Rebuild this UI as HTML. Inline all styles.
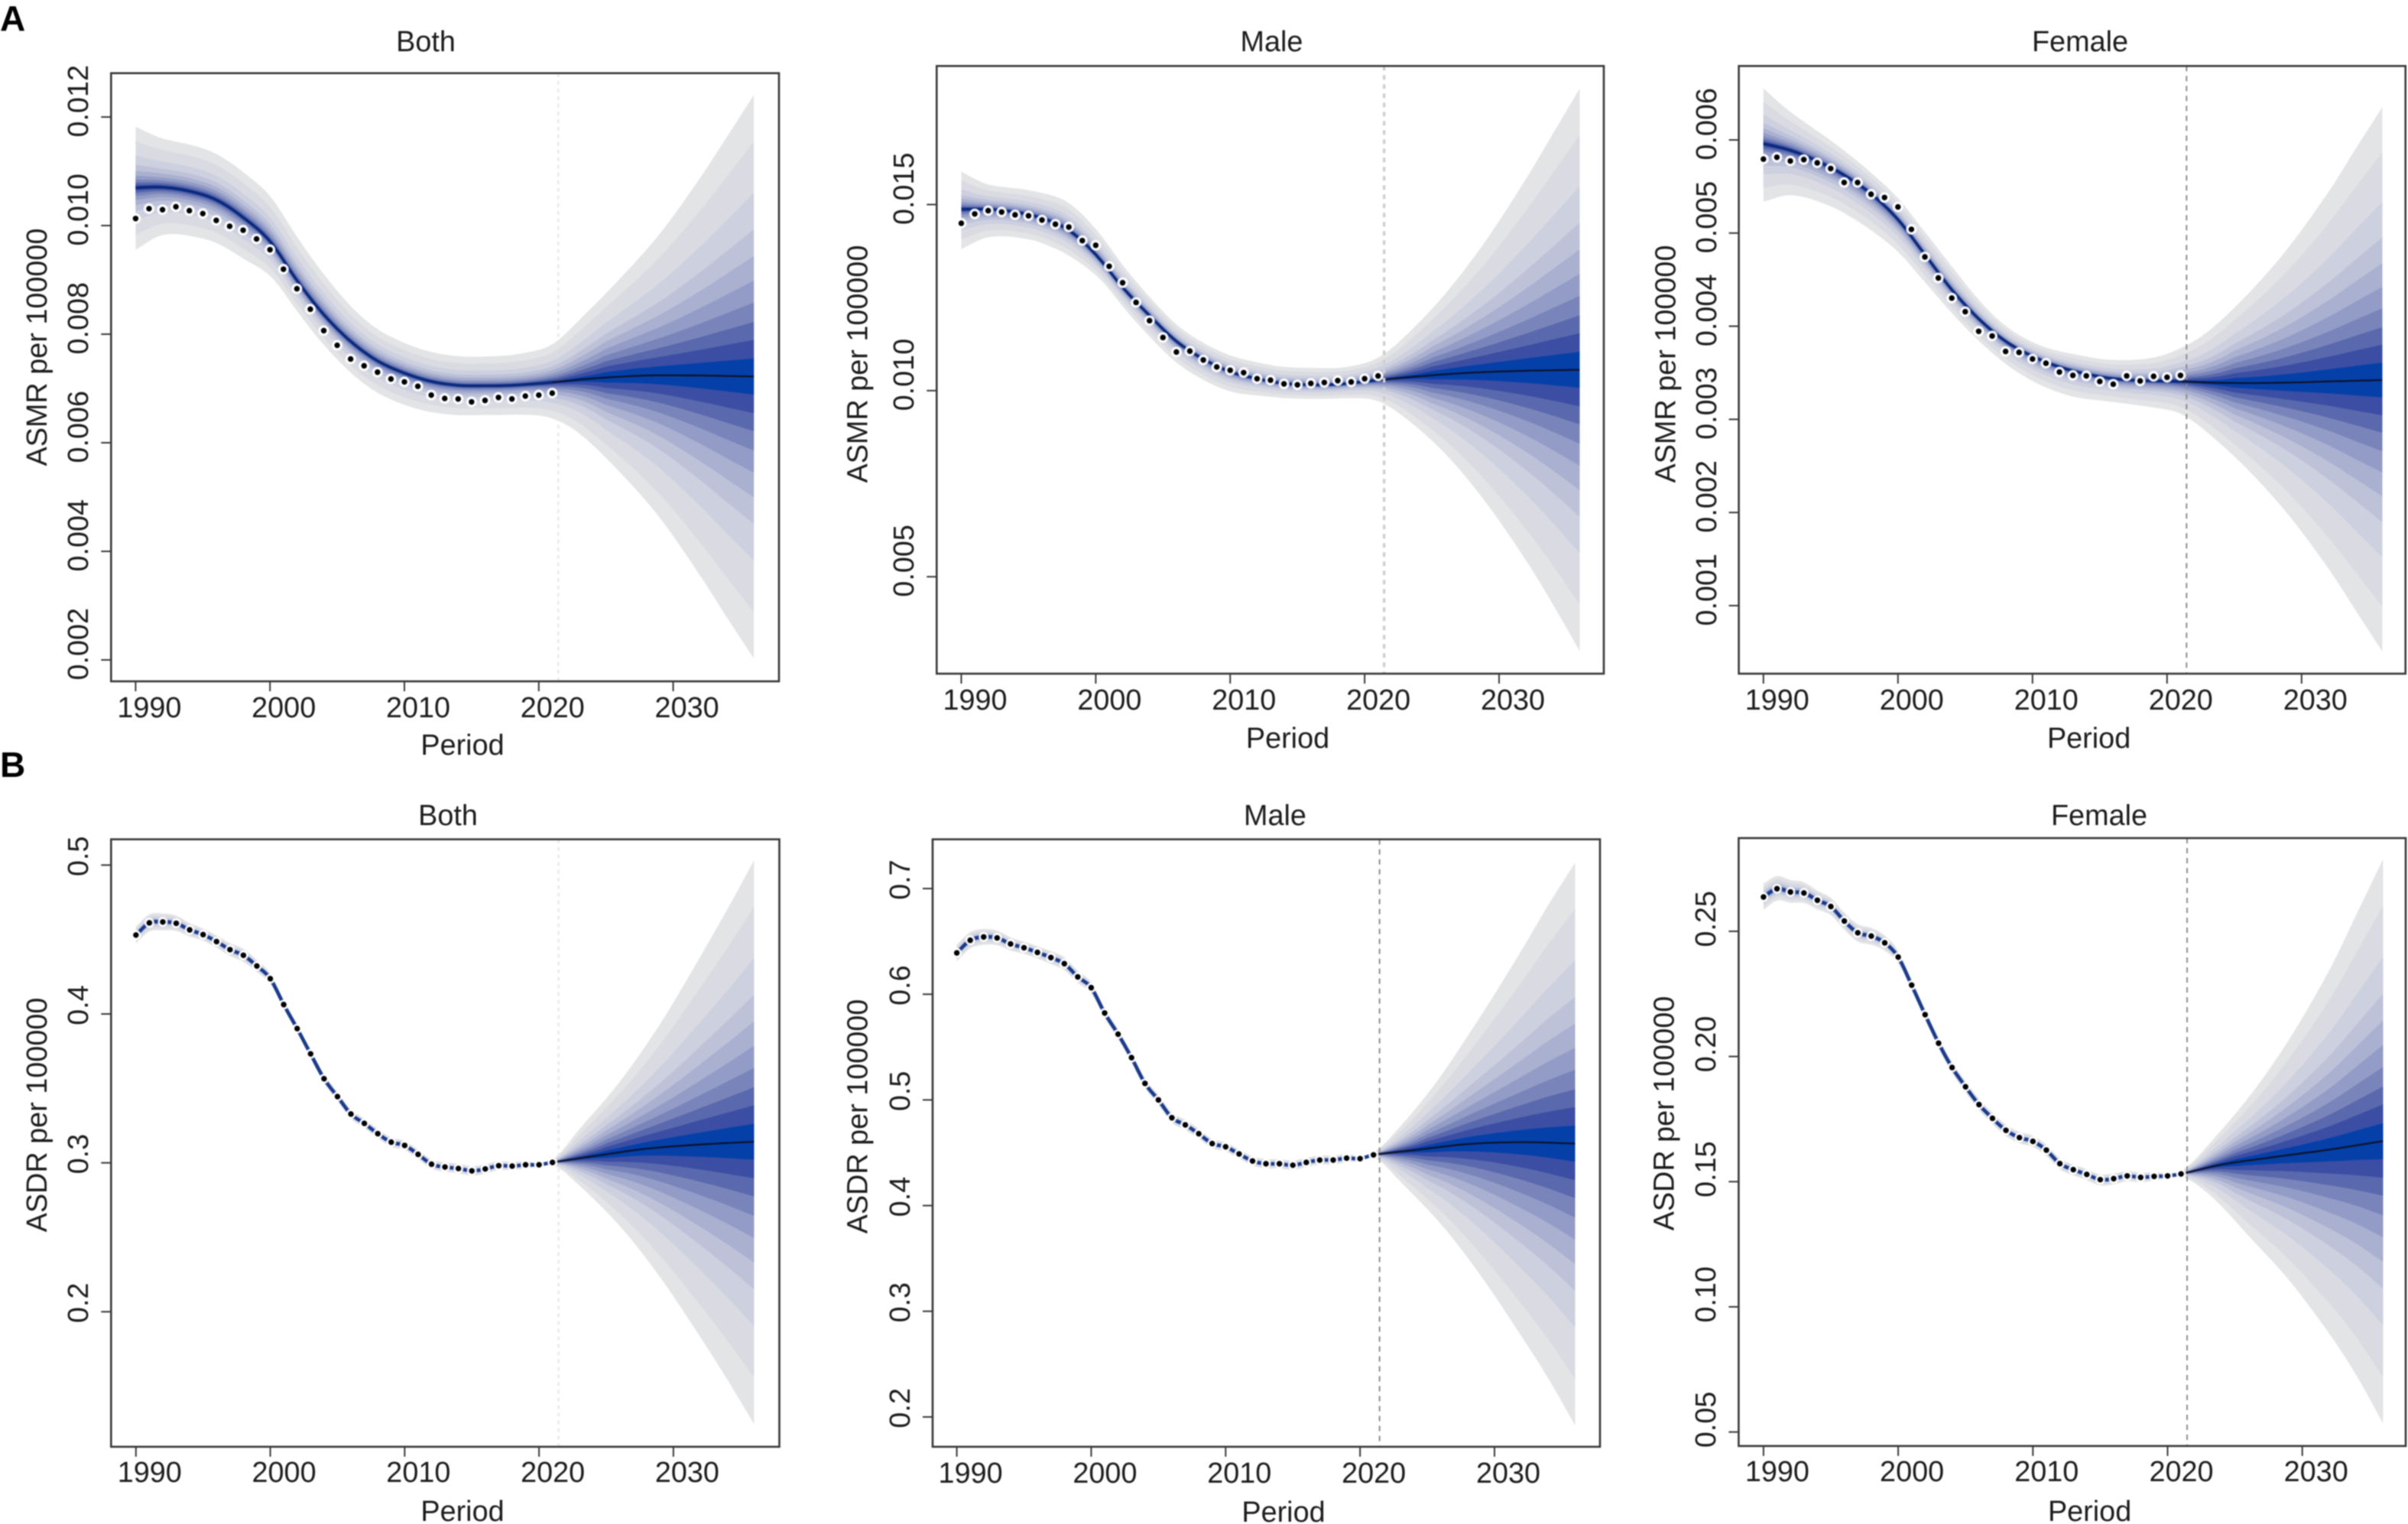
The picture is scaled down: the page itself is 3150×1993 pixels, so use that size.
<!DOCTYPE html>
<html lang="en">
<head>
<meta charset="utf-8">
<title>ASMR and ASDR projections</title>
<style>
html,body{margin:0;padding:0;background:#fff;width:3150px;height:1993px;overflow:hidden}
svg{display:block;filter:blur(0.9px)}
text{font-family:"Liberation Sans",sans-serif;font-size:37.8px;fill:#1c1c1c}
.letter{font-weight:bold;font-size:46px;fill:#000}
</style>
</head>
<body>
<svg id="figure" width="3150" height="1993" viewBox="0 0 3150 1993">
<rect x="0" y="0" width="3150" height="1993" fill="#fff"/>
<text class="letter" x="0" y="40">A</text>
<text class="letter" x="0" y="1016">B</text>

<g id="asmrBoth">
<text x="557" y="67" text-anchor="middle">Both</text>
<text x="605" y="987" text-anchor="middle">Period</text>
<text transform="translate(61 454) rotate(-90)" text-anchor="middle">ASMR per 100000</text>
</g>
<g id="asmrMale">
<text x="1663.5" y="67" text-anchor="middle">Male</text>
<text x="1684.5" y="978" text-anchor="middle">Period</text>
<text transform="translate(1134.7 476) rotate(-90)" text-anchor="middle">ASMR per 100000</text>
</g>
<g id="asmrFemale">
<text x="2721" y="67" text-anchor="middle">Female</text>
<text x="2732.6" y="978" text-anchor="middle">Period</text>
<text transform="translate(2191.5 476) rotate(-90)" text-anchor="middle">ASMR per 100000</text>
</g>
<g id="asdrBoth">
<text x="586" y="1079" text-anchor="middle">Both</text>
<text x="605" y="1989" text-anchor="middle">Period</text>
<text transform="translate(61 1458) rotate(-90)" text-anchor="middle">ASDR per 100000</text>
</g>
<g id="asdrMale">
<text x="1668" y="1079" text-anchor="middle">Male</text>
<text x="1679" y="1990" text-anchor="middle">Period</text>
<text transform="translate(1134.7 1460) rotate(-90)" text-anchor="middle">ASDR per 100000</text>
</g>
<g id="asdrFemale">
<text x="2746" y="1079" text-anchor="middle">Female</text>
<text x="2733.6" y="1989" text-anchor="middle">Period</text>
<text transform="translate(2189.5 1456) rotate(-90)" text-anchor="middle">ASDR per 100000</text>
</g>
</svg>
<script>
/* ---------- shared categories ---------- */
const observedYears = [1990,1991,1992,1993,1994,1995,1996,1997,1998,1999,2000,2001,2002,2003,2004,2005,2006,2007,2008,2009,2010,2011,2012,2013,2014,2015,2016,2017,2018,2019,2020,2021];
const smoothMedianYears = [1990,1992,1994,1996,1998,2000,2002,2004,2006,2008,2010,2012,2014,2016,2018,2021,2024,2028,2032,2036];
const forecastMedianYears = [2024,2028,2032,2036];
const spreadYears = [1990,1992,1995,1998,2001,2004,2007,2010,2013,2016,2019,2021,2023,2026,2029,2032,2034,2036];
const xTickValues = [1990,2000,2010,2020,2030];
const bandLevels = [1,0.835,0.653,0.523,0.428,0.341,0.263,0.194,0.13,0.064];

/* ---------- ASMR both ---------- */
const asmrBothObserved = [.01013,.010311,.010293,.010347,.010275,.010221,.010095,.009987,.009915,.009754,.009556,.009197,.008837,.00846,.008065,.007795,.007543,.007418,.0073,.007175,.007121,.00704,.006878,.006816,.006807,.006753,.00678,.006834,.006807,.00686,.006878,.006914];
const asmrBothMedian = [.010697,.010706,.010634,.010473,.01015,.009709,.00899,.008361,.007867,.007508,.007283,.00713,.007058,.007049,.007058,.007112,.007184,.007238,.007238,.00722];
const asmrBothUpper = [.001123,.000899,.000854,.000836,.000827,.000746,.000611,.000557,.000539,.000539,.000584,.000701,.001096,.001797,.002606,.003639,.004403,.005184];
const asmrBothLower = [.001141,.000881,.000809,.000755,.000584,.000557,.000584,.000584,.000557,.000539,.000557,.000665,.000988,.001752,.002624,.003684,.004448,.005193];
const asmrBothTicks = [.002,.004,.006,.008,.010,.012];
const asmrBothTickLabels = ['0.002','0.004','0.006','0.008','0.010','0.012'];

/* ---------- ASMR male ---------- */
const asmrMaleObserved = [.014497,.014748,.014836,.014799,.014723,.014698,.014585,.014472,.014396,.014031,.013906,.01334,.012899,.012371,.01188,.011428,.011038,.011063,.010824,.010635,.010547,.010484,.010321,.010283,.010182,.010157,.010195,.01022,.01027,.010233,.010321,.010396];
const asmrMaleMedian = [.014874,.014874,.014799,.014635,.014308,.013654,.012774,.012019,.011327,.010849,.010509,.010321,.010195,.010157,.01017,.010283,.010384,.010484,.010534,.01056];
const asmrMaleUpper = [.001006,.000667,.000654,.00073,.000654,.000503,.00044,.00044,.00044,.000453,.000453,.000604,.001107,.002164,.003522,.005157,.006352,.00756];
const asmrMaleLower = [.001069,.000755,.000667,.000679,.000503,.000566,.000566,.000528,.000415,.000377,.000403,.000566,.001082,.002138,.003497,.005095,.00629,.00756];
const asmrMaleTicks = [.005,.010,.015];
const asmrMaleTickLabels = ['0.005','0.010','0.015'];

/* ---------- ASMR female ---------- */
const asmrFemaleObserved = [.005794,.005814,.005774,.005789,.005754,.005693,.005543,.005543,.005417,.005382,.005281,.00504,.004744,.004518,.004302,.004156,.003945,.003895,.003729,.003719,.003648,.003603,.003508,.003472,.003467,.003407,.003377,.003467,.003412,.003462,.003452,.003472];
const asmrFemaleMedian = [.00596,.005889,.005774,.005623,.005422,.005146,.004769,.004392,.00408,.003839,.003678,.003563,.003487,.003437,.003417,.003407,.003392,.003392,.003407,.003422];
const asmrFemaleUpper = [.000593,.000412,.000291,.000226,.000236,.000251,.000181,.000151,.000181,.000201,.000251,.000357,.000543,.000955,.001447,.002035,.002487,.00293];
const asmrFemaleLower = [.000623,.000482,.000417,.000392,.000322,.000251,.000236,.000266,.000276,.000251,.000286,.000347,.000538,.00093,.001417,.00201,.002462,.002915];
const asmrFemaleTicks = [.001,.002,.003,.004,.005,.006];
const asmrFemaleTickLabels = ['0.001','0.002','0.003','0.004','0.005','0.006'];

/* ---------- ASDR both ---------- */
const asdrBothObserved = [.453,.4612,.4618,.4609,.4565,.4533,.4486,.4432,.4394,.4322,.4237,.4063,.3902,.3732,.3565,.3445,.3328,.3265,.3196,.3139,.3117,.3057,.2991,.2972,.2962,.2946,.2959,.2981,.2978,.2987,.2987,.3003];
const asdrBothForecast = [.3044,.3095,.3123,.3142];
const asdrBothUpper = [.0057,.0057,.0041,.0044,.0032,.0032,.0032,.0032,.0032,.0032,.0025,.0019,.0196,.0473,.0827,.1262,.1568,.189];
const asdrBothLower = [.0057,.0057,.0041,.0044,.0032,.0032,.0032,.0032,.0032,.0032,.0025,.0019,.0183,.0495,.0871,.1293,.1587,.1896];
const asdrBothTicks = [.2,.3,.4,.5];
const asdrBothTickLabels = ['0.2','0.3','0.4','0.5'];

/* ---------- ASDR male ---------- */
const asdrMaleObserved = [.6391,.6511,.6542,.6533,.6476,.644,.6396,.6347,.6289,.6164,.6062,.5822,.5622,.54,.5156,.5,.4831,.4764,.468,.4587,.4556,.4489,.4422,.4396,.4396,.4382,.4409,.4431,.4431,.4449,.4444,.448];
const asdrMaleForecast = [.4524,.4582,.46,.4587];
const asdrMaleUpper = [.008,.0076,.0058,.0062,.0049,.0049,.0049,.0044,.0044,.0044,.004,.0027,.024,.0671,.1209,.1813,.2249,.2658];
const asdrMaleLower = [.008,.0076,.0058,.0062,.0049,.0049,.0049,.0044,.0044,.0044,.004,.0027,.0284,.0729,.1258,.1836,.2231,.2667];
const asdrMaleTicks = [.2,.3,.4,.5,.6,.7];
const asdrMaleTickLabels = ['0.2','0.3','0.4','0.5','0.6','0.7'];

/* ---------- ASDR female ---------- */
const asdrFemaleObserved = [.2637,.267,.2657,.2653,.2624,.2599,.2541,.2494,.2481,.2454,.2397,.2285,.2167,.2053,.1956,.1879,.1808,.1753,.1705,.1676,.1661,.1626,.1572,.1548,.1529,.1508,.1512,.1523,.1517,.1521,.1523,.1531];
const asdrFemaleForecast = [.1568,.1599,.1628,.1662];
const asdrFemaleUpper = [.0054,.0048,.0035,.0033,.0023,.0023,.0023,.0023,.0021,.0021,.0017,.0012,.0089,.0251,.046,.0716,.0921,.1126];
const asdrFemaleLower = [.0052,.0043,.0035,.0035,.0023,.0023,.0023,.0023,.0023,.0023,.0017,.0012,.0104,.03,.0499,.0735,.0917,.1128];
const asdrFemaleTicks = [.05,.10,.15,.20,.25];
const asdrFemaleTickLabels = ['0.05','0.10','0.15','0.20','0.25'];

/* ---------- panel wiring (values) ---------- */
const panelSeries = {
  asmrBoth:{observed:asmrBothObserved,medianYears:smoothMedianYears,median:asmrBothMedian,upper:asmrBothUpper,lower:asmrBothLower,ticks:asmrBothTicks,labels:asmrBothTickLabels},
  asmrMale:{observed:asmrMaleObserved,medianYears:smoothMedianYears,median:asmrMaleMedian,upper:asmrMaleUpper,lower:asmrMaleLower,ticks:asmrMaleTicks,labels:asmrMaleTickLabels},
  asmrFemale:{observed:asmrFemaleObserved,medianYears:smoothMedianYears,median:asmrFemaleMedian,upper:asmrFemaleUpper,lower:asmrFemaleLower,ticks:asmrFemaleTicks,labels:asmrFemaleTickLabels},
  asdrBoth:{observed:asdrBothObserved,medianYears:observedYears.concat(forecastMedianYears),median:asdrBothObserved.concat(asdrBothForecast),upper:asdrBothUpper,lower:asdrBothLower,ticks:asdrBothTicks,labels:asdrBothTickLabels},
  asdrMale:{observed:asdrMaleObserved,medianYears:observedYears.concat(forecastMedianYears),median:asdrMaleObserved.concat(asdrMaleForecast),upper:asdrMaleUpper,lower:asdrMaleLower,ticks:asdrMaleTicks,labels:asdrMaleTickLabels},
  asdrFemale:{observed:asdrFemaleObserved,medianYears:observedYears.concat(forecastMedianYears),median:asdrFemaleObserved.concat(asdrFemaleForecast),upper:asdrFemaleUpper,lower:asdrFemaleLower,ticks:asdrFemaleTicks,labels:asdrFemaleTickLabels}
};

/* ---------- panel geometry (pixels only, no data) ---------- */
const panelLayout = {
  asmrBoth:{l:145.3,t:95.7,r:1019,b:891,x1990:177.4,x2030:880.6,yLow:863,yHigh:153,tickBase:938,valBase:115,vline:'faint',fit:'smooth'},
  asmrMale:{l:1225.3,t:86.3,r:2098,b:881,x1990:1257.5,x2030:1961,yLow:754.2,yHigh:267.5,tickBase:928,valBase:1195,vline:'light',fit:'smooth'},
  asmrFemale:{l:2274.6,t:86.3,r:3146.7,b:881,x1990:2306.8,x2030:3010.8,yLow:792,yHigh:183,tickBase:928,valBase:2245,vline:'dark',fit:'smooth'},
  asdrBoth:{l:145.3,t:1097.6,r:1019.5,b:1892,x1990:177.8,x2030:880.9,yLow:1715.4,yHigh:1131.3,tickBase:1938,valBase:115,vline:'faint',fit:'tight'},
  asdrMale:{l:1220,t:1097.6,r:2093,b:1892,x1990:1251.6,x2030:1955,yLow:1853,yHigh:1162,tickBase:1939,valBase:1190,vline:'dark',fit:'tight'},
  asdrFemale:{l:2274.4,t:1096,r:3147,b:1891,x1990:2306.9,x2030:3011.7,yLow:1872.7,yHigh:1217.9,tickBase:1937,valBase:2244,vline:'dark',fit:'tight'}
};
const vlineStyles = {
  faint:{stroke:'#ececec',width:3,dash:'5 5'},
  light:{stroke:'#cfcfcf',width:3.5,dash:'6 6'},
  dark:{stroke:'#8c8c8c',width:2,dash:'7 6'}
};
const fitStyles = {
  smooth:{stroke:'#0a2a7c',width:3.6,halo:7},
  tight:{stroke:'#1a3a8c',width:4.6,halo:6.5}
};
const bandColors = ['#e3e4e6','#dadbe2','#cdd0df','#bec2d9','#a9b0d0','#939cc6','#7985ba','#5a69ae','#3b4ea3','#0540a9'];
const SVG_NS = 'http://www.w3.org/2000/svg';
const DASH_YEAR = 2021.45, FIRST_YEAR = 1990, LAST_YEAR = 2036, STEP = 0.25;

function svgEl(tag, parent, attrs){
  const el = document.createElementNS(SVG_NS, tag);
  for (const k in attrs) el.setAttribute(k, attrs[k]);
  parent.appendChild(el);
  return el;
}

/* cubic Hermite curve through knots */
function smoothCurve(xs, ys){
  const n = xs.length, m = [];
  for (let i = 0; i < n; i++){
    if (i === 0) m.push((ys[1]-ys[0])/(xs[1]-xs[0]));
    else if (i === n-1) m.push((ys[n-1]-ys[n-2])/(xs[n-1]-xs[n-2]));
    else m.push((ys[i+1]-ys[i-1])/(xs[i+1]-xs[i-1]));
  }
  return function(x){
    let k = 0;
    while (k < n-2 && x > xs[k+1]) k++;
    const h = xs[k+1]-xs[k], s = (x-xs[k])/h, s2 = s*s, s3 = s2*s;
    return (2*s3-3*s2+1)*ys[k] + (s3-2*s2+s)*h*m[k] + (-2*s3+3*s2)*ys[k+1] + (s3-s2)*h*m[k+1];
  };
}

/* fitted years concentrate colour near the centre line; forecast years use the levels as read */
function levelShape(level, year){
  const t = Math.min(1, Math.max(0, (year-2019)/6));
  return Math.pow(level, 1.5 - 0.5*t);
}

function labelLength(str){
  return (str.length-1)*21 + 10.5;
}

function drawPanel(id){
  const data = panelSeries[id], box = panelLayout[id];
  const group = document.getElementById(id);
  const xScale = year => box.x1990 + (year-1990)*(box.x2030-box.x1990)/40;
  const vLow = data.ticks[0], vHigh = data.ticks[data.ticks.length-1];
  const yScale = v => box.yLow + (v-vLow)*(box.yHigh-box.yLow)/(vHigh-vLow);

  const medianAt = smoothCurve(data.medianYears, data.median);
  const upperAt = smoothCurve(spreadYears, data.upper);
  const lowerAt = smoothCurve(spreadYears, data.lower);

  const sampleYears = [];
  for (let yr = FIRST_YEAR; yr <= LAST_YEAR + 1e-6; yr += STEP) sampleYears.push(yr);

  /* nested prediction bands */
  const bandGroup = svgEl('g', group, {});
  
  
  bandLevels.forEach(function(level, i){
    const top = sampleYears.map(yr => xScale(yr).toFixed(1)+','+yScale(medianAt(yr)+levelShape(level,yr)*Math.max(0,upperAt(yr))).toFixed(1));
    const bottom = sampleYears.slice().reverse().map(yr => xScale(yr).toFixed(1)+','+yScale(medianAt(yr)-levelShape(level,yr)*Math.max(0,lowerAt(yr))).toFixed(1));
    const band = svgEl('polygon', bandGroup, {points: top.concat(bottom).join(' '), fill: bandColors[i]});
    
    
  });

  /* median lines */
  const fs = fitStyles[box.fit];
  const histPts = sampleYears.filter(yr => yr <= 2021).map(yr => xScale(yr).toFixed(1)+','+yScale(medianAt(yr)).toFixed(1));
  const histLine = svgEl('polyline', group, {points: histPts.join(' '), fill:'none', stroke:fs.stroke, 'stroke-width':fs.width});
  
  
  const forePts = sampleYears.filter(yr => yr >= 2021).map(yr => xScale(yr).toFixed(1)+','+yScale(medianAt(yr)).toFixed(1));
  const foreLine = svgEl('polyline', group, {points: forePts.join(' '), fill:'none', stroke:'#0c1430', 'stroke-width':2.4});
  
  

  /* forecast start marker: the faint style sits behind the fan */
  const vs = vlineStyles[box.vline];
  const marker = svgEl('line', group, {x1:xScale(DASH_YEAR), x2:xScale(DASH_YEAR), y1:box.t, y2:box.b, stroke:vs.stroke, 'stroke-width':vs.width, 'stroke-dasharray':vs.dash});
  
  
  if (box.vline === 'faint') group.insertBefore(marker, bandGroup);

  /* observed points */
  data.observed.forEach(function(v, i){
    const cx = xScale(observedYears[i]), cy = yScale(v);
    const halo = svgEl('circle', group, {cx:cx, cy:cy, r:fs.halo, fill:'#fff', 'fill-opacity':0.92});
    
    
    const dot = svgEl('circle', group, {cx:cx, cy:cy, r:3.7, fill:'#000'});
    
    
  });

  /* frame */
  const frame = svgEl('rect', group, {x:box.l, y:box.t, width:box.r-box.l, height:box.b-box.t, fill:'none', stroke:'#383838', 'stroke-width':2.6});
  
  

  /* x axis */
  xTickValues.forEach(function(year){
    const px = xScale(year);
    const tick = svgEl('line', group, {x1:px, x2:px, y1:box.b, y2:box.b+13, stroke:'#383838', 'stroke-width':2});
    
    
    const label = svgEl('text', group, {x:px+18, y:box.tickBase, 'text-anchor':'middle'});
    
    
    label.textContent = String(year);
  });

  /* y axis */
  data.ticks.forEach(function(v, i){
    const py = yScale(v);
    const tick = svgEl('line', group, {x1:box.l-13, x2:box.l, y1:py, y2:py, stroke:'#383838', 'stroke-width':2});
    
    
    const text = data.labels[i];
    const shift = 0.22*labelLength(text);
    const label = svgEl('text', group, {transform:'translate('+box.valBase+' '+(py-shift)+') rotate(-90)', 'text-anchor':'middle'});
    
    
    label.textContent = text;
  });
}

Object.keys(panelSeries).forEach(drawPanel);
</script>
</body>
</html>
